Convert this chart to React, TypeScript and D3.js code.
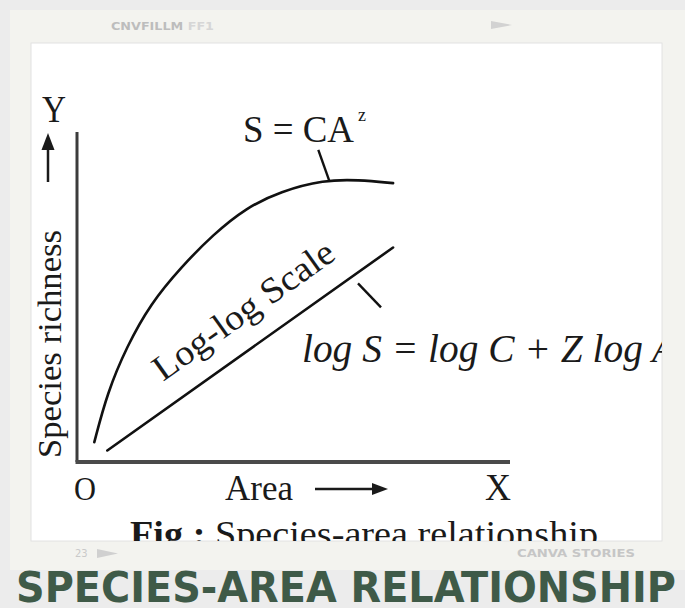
import React from "react";
import * as d3 from "d3";

// Species–area curve S = C·A^z, read in axis units (0–100 on both axes)
const areaValues = [4, 7, 11.5, 17, 24, 31.5, 39, 47, 57, 65, 73];
const richnessValues = [6, 21, 35, 48, 59, 69, 77, 82, 85.5, 85.5, 84.5];

// Straight line of the same relationship on a log-log scale
const logAreaValues = [7, 73];
const logRichnessValues = [3.5, 65];

const axisDomain = [0, 100];

const W = 685;
const H = 608;

const serif = "'Liberation Serif', 'Times New Roman', serif";
const sans = "'DejaVu Sans Condensed', 'DejaVu Sans', sans-serif";

export default function App() {
  const x = d3.scaleLinear().domain(axisDomain).range([77, 510]);
  const y = d3.scaleLinear().domain(axisDomain).range([462, 132]);

  const curvePts: [number, number][] = areaValues.map((a, i) => [a, richnessValues[i]]);
  const logPts: [number, number][] = logAreaValues.map((a, i) => [a, logRichnessValues[i]]);

  const curveGen = d3
    .line<[number, number]>()
    .x((d) => x(d[0]))
    .y((d) => y(d[1]))
    .curve(d3.curveBasis);
  const lineGen = d3
    .line<[number, number]>()
    .x((d) => x(d[0]))
    .y((d) => y(d[1]));

  // geometry of the log-log line, used for its rotated label and leader
  const lx0 = x(logAreaValues[0]);
  const ly0 = y(logRichnessValues[0]);
  const lx1 = x(logAreaValues[1]);
  const ly1 = y(logRichnessValues[1]);
  const angle = (Math.atan2(ly1 - ly0, lx1 - lx0) * 180) / Math.PI;
  const slope = (ly1 - ly0) / (lx1 - lx0);
  const lineYAt = (px: number) => ly0 + (px - lx0) * slope;

  // peak of the curve, where the S = CA^z leader meets it
  const peakX = x(58.5);
  const peakY = y(85.2);

  const leaderX = 358;

  return (
    <svg
      width={W}
      height={H}
      viewBox={`0 0 ${W} ${H}`}
      style={{ position: "absolute", left: 0, top: 0, display: "block" }}
    >
      <defs>
        <clipPath id="card-clip">
          <rect x={31} y={43} width={631} height={498} />
        </clipPath>
      </defs>

      {/* page and slide panel */}
      <rect x={0} y={0} width={W} height={H} fill="#ececec" />
      <rect x={10} y={10} width={W - 10} height={560} fill="#f3f3ef" />

      {/* faint slide header/footer */}
      <text x={111} y={30} fontFamily={sans} fontWeight="bold" fontSize={11} fill="#bdbdbd" textLength={103} lengthAdjust="spacingAndGlyphs">
        CNVFILLM <tspan fill="#d6d6d6">FF1</tspan>
      </text>
      <path d="M491,21 L512,25 L491,29 Z" fill="#d2d2d2" />
      <text x={75} y={557} fontFamily={sans} fontSize={11} fill="#c9c9c9">
        23
      </text>
      <path d="M97,549 L118,553.5 L97,558 Z" fill="#d0d0d0" />
      <text x={517} y={557} fontFamily={sans} fontWeight="bold" fontSize={11} fill="#c6c6c6" textLength={118} lengthAdjust="spacingAndGlyphs">
        CANVA STORIES
      </text>

      {/* white card holding the figure */}
      <rect x={31} y={43} width={631} height={498} fill="#ffffff" stroke="#e2e2e2" strokeWidth={1} />

      <g clipPath="url(#card-clip)" fill="#1a1a1a" fontFamily={serif}>
        {/* axes */}
        <line x1={x(0)} y1={y(0)} x2={x(0)} y2={y(100)} stroke="#3c3c3c" strokeWidth={3} />
        <line x1={x(0) - 1.5} y1={y(0)} x2={x(100)} y2={y(0)} stroke="#4a4a4a" strokeWidth={4} />

        {/* Y label with upward arrow */}
        <text x={54} y={122} fontSize={38} textAnchor="middle" textLength={24} lengthAdjust="spacingAndGlyphs">
          Y
        </text>
        <line x1={48} y1={182} x2={48} y2={145} stroke="#1a1a1a" strokeWidth={2.5} />
        <path d="M48,133 L54.5,150 L41.5,150 Z" fill="#1a1a1a" />

        <text
          transform={`translate(61,344) rotate(-90)`}
          fontSize={34}
          textAnchor="middle"
          textLength={228}
          lengthAdjust="spacingAndGlyphs"
        >
          Species richness
        </text>

        {/* origin, X label and area arrow */}
        <text x={85} y={500} fontSize={34} textAnchor="middle" textLength={22} lengthAdjust="spacingAndGlyphs">
          O
        </text>
        <text x={225} y={500} fontSize={36} textLength={68} lengthAdjust="spacingAndGlyphs">
          Area
        </text>
        <line x1={315} y1={489} x2={374} y2={489} stroke="#1a1a1a" strokeWidth={2.5} />
        <path d="M388,489 L372,483 L372,495 Z" fill="#1a1a1a" />
        <text x={498} y={500} fontSize={38} textAnchor="middle" textLength={26} lengthAdjust="spacingAndGlyphs">
          X
        </text>

        {/* S = CA^z curve */}
        <path d={curveGen(curvePts) ?? ""} fill="none" stroke="#111" strokeWidth={2.6} strokeLinecap="round" />
        <line x1={peakX - 12} y1={peakY - 31} x2={peakX - 1} y2={peakY} stroke="#111" strokeWidth={2.4} />
        <text x={243} y={142} fontSize={38} textLength={111} lengthAdjust="spacingAndGlyphs">
          S = CA
        </text>
        <text x={358} y={121} fontSize={18}>
          z
        </text>

        {/* log-log straight line */}
        <path d={lineGen(logPts) ?? ""} fill="none" stroke="#111" strokeWidth={2.6} strokeLinecap="round" />
        <text
          transform={`translate(163,382) rotate(${angle})`}
          fontSize={36}
          textLength={214}
          lengthAdjust="spacingAndGlyphs"
        >
          Log-log Scale
        </text>
        <line
          x1={leaderX}
          y1={lineYAt(leaderX) + 11}
          x2={leaderX + 23}
          y2={lineYAt(leaderX) + 35}
          stroke="#111"
          strokeWidth={2.4}
        />
        <text x={302} y={362} fontSize={40} fontStyle="italic" textLength={374} lengthAdjust="spacingAndGlyphs">
          log S = log C + Z log A
        </text>

        {/* caption, cut by the card edge */}
        <text x={130} y={546} fontSize={36} textLength={468} lengthAdjust="spacingAndGlyphs">
          <tspan fontWeight="bold">Fig :</tspan> Species-area relationship
        </text>
      </g>

      {/* slide title */}
      <text
        x={16}
        y={602}
        fontFamily={sans}
        fontWeight="bold"
        fontSize={43}
        fill="#3f5a48"
        textLength={660}
        lengthAdjust="spacingAndGlyphs"
      >
        SPECIES-AREA RELATIONSHIP
      </text>
    </svg>
  );
}
